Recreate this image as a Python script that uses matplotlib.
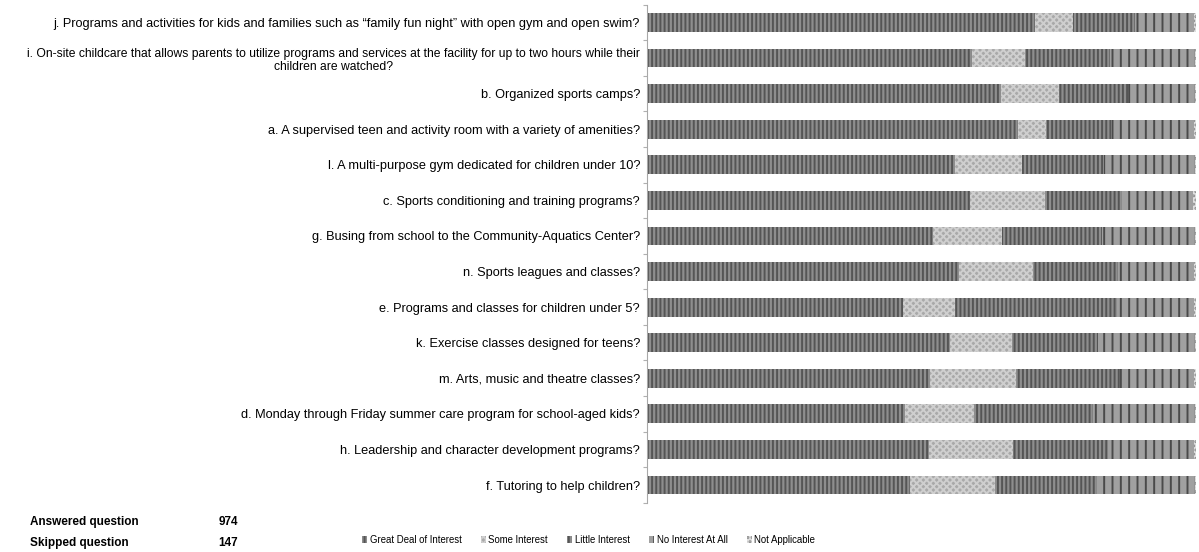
import numpy as np
import matplotlib
matplotlib.use('Agg')
import matplotlib.pyplot as plt

plt.rcParams['font.family'] = ['Liberation Sans', 'DejaVu Sans']
plt.rcParams['hatch.linewidth'] = 1.4

# preguntas, de arriba hacia abajo
preguntas = [
    'j. Programs and activities for kids and families such as \u201cfamily fun night\u201d with open gym and open swim?',
    'i. On-site childcare that allows parents to utilize programs and services at the facility for up to two hours while their\nchildren are watched?',
    'b. Organized sports camps?',
    'a. A supervised teen and activity room with a variety of amenities?',
    'l. A multi-purpose gym dedicated for children under 10?',
    'c. Sports conditioning and training programs?',
    'g. Busing from school to the Community-Aquatics Center?',
    'n. Sports leagues and classes?',
    'e. Programs and classes for children under 5?',
    'k. Exercise classes designed for teens?',
    'm. Arts, music and theatre classes?',
    'd. Monday through Friday summer care program for school-aged kids?',
    'h. Leadership and character development programs?',
    'f. Tutoring to help children?',
]

categorias = ['Great Deal of Interest', 'Some Interest', 'Little Interest',
              'No Interest At All', 'Not Applicable']

# porcentajes
great_deal = [70.7, 59.2, 64.5, 67.6, 56.1, 58.8, 52.1, 56.8, 46.6, 55.2, 51.5, 47.0, 51.4, 47.9]
some_int = [6.9, 9.7, 10.6, 5.1, 12.2, 13.7, 12.6, 13.5, 9.5, 11.3, 15.8, 12.6, 15.3, 15.5]
little_int = [11.3, 15.5, 12.6, 12.0, 14.9, 14.0, 18.2, 15.5, 29.5, 15.7, 18.8, 21.7, 17.3, 18.6]
no_int = [10.8, 15.4, 12.1, 15.0, 16.6, 12.9, 16.9, 13.8, 14.0, 17.6, 13.5, 18.5, 15.6, 17.8]
no_aplica = [0.3, 0.2, 0.2, 0.3, 0.2, 0.6, 0.2, 0.4, 0.4, 0.2, 0.4, 0.2, 0.4, 0.2]

series = [great_deal, some_int, little_int, no_int, no_aplica]

estilos = [
    dict(facecolor='#8e8e8e', edgecolor='#555555', hatch='||||'),
    dict(facecolor='#a9a9a9', edgecolor='#cfcfcf', hatch='xxxxx'),
    dict(facecolor='#8e8e8e', edgecolor='#555555', hatch='||||'),
    dict(facecolor='#a0a0a0', edgecolor='#4a4a4a', hatch='||'),
    dict(facecolor='#e0e0e0', edgecolor='#8a8a8a', hatch='....'),
]

fig = plt.figure(figsize=(11.99, 5.52), dpi=100)
ax = fig.add_axes([0.5396, 0.0891, 0.4579, 0.9024])

y = np.arange(len(preguntas))
izq = np.zeros(len(preguntas))
for nombre, valores, est in zip(categorias, series, estilos):
    valores = np.array(valores)
    ax.barh(y, valores, left=izq, height=0.53, linewidth=0, label=nombre, **est)
    izq = izq + valores

ax.set_ylim(len(preguntas) - 0.5, -0.5)
ax.set_xlim(0, 100)
ax.set_yticks(y)
etiquetas = ax.set_yticklabels(preguntas, fontsize=9.2, multialignment='center')
etiquetas[1].set_fontsize(8.7)
ax.set_yticks(np.arange(-0.5, len(preguntas), 1), minor=True)
ax.tick_params(axis='y', which='major', length=0, pad=5)
ax.tick_params(axis='y', which='minor', length=3, color='#b0b0b0', width=0.8)
ax.set_xticks([])
for lado in ['top', 'right', 'bottom']:
    ax.spines[lado].set_visible(False)
ax.spines['left'].set_color('#a8a8a8')
ax.spines['left'].set_linewidth(0.8)

ax.legend(loc='center', bbox_to_anchor=(0.491, 0.022), bbox_transform=fig.transFigure,
          ncol=5, frameon=False, fontsize=6.9, handlelength=0.5, handleheight=0.8,
          handletextpad=0.3, columnspacing=2.0)

fig.text(0.025, 0.054, 'Answered question', fontsize=8.5, fontweight='bold', va='center')
fig.text(0.182, 0.054, '974', fontsize=8.5, fontweight='bold', va='center')
fig.text(0.025, 0.016, 'Skipped question', fontsize=8.5, fontweight='bold', va='center')
fig.text(0.182, 0.016, '147', fontsize=8.5, fontweight='bold', va='center')

fig.savefig('out.png', dpi=100)
